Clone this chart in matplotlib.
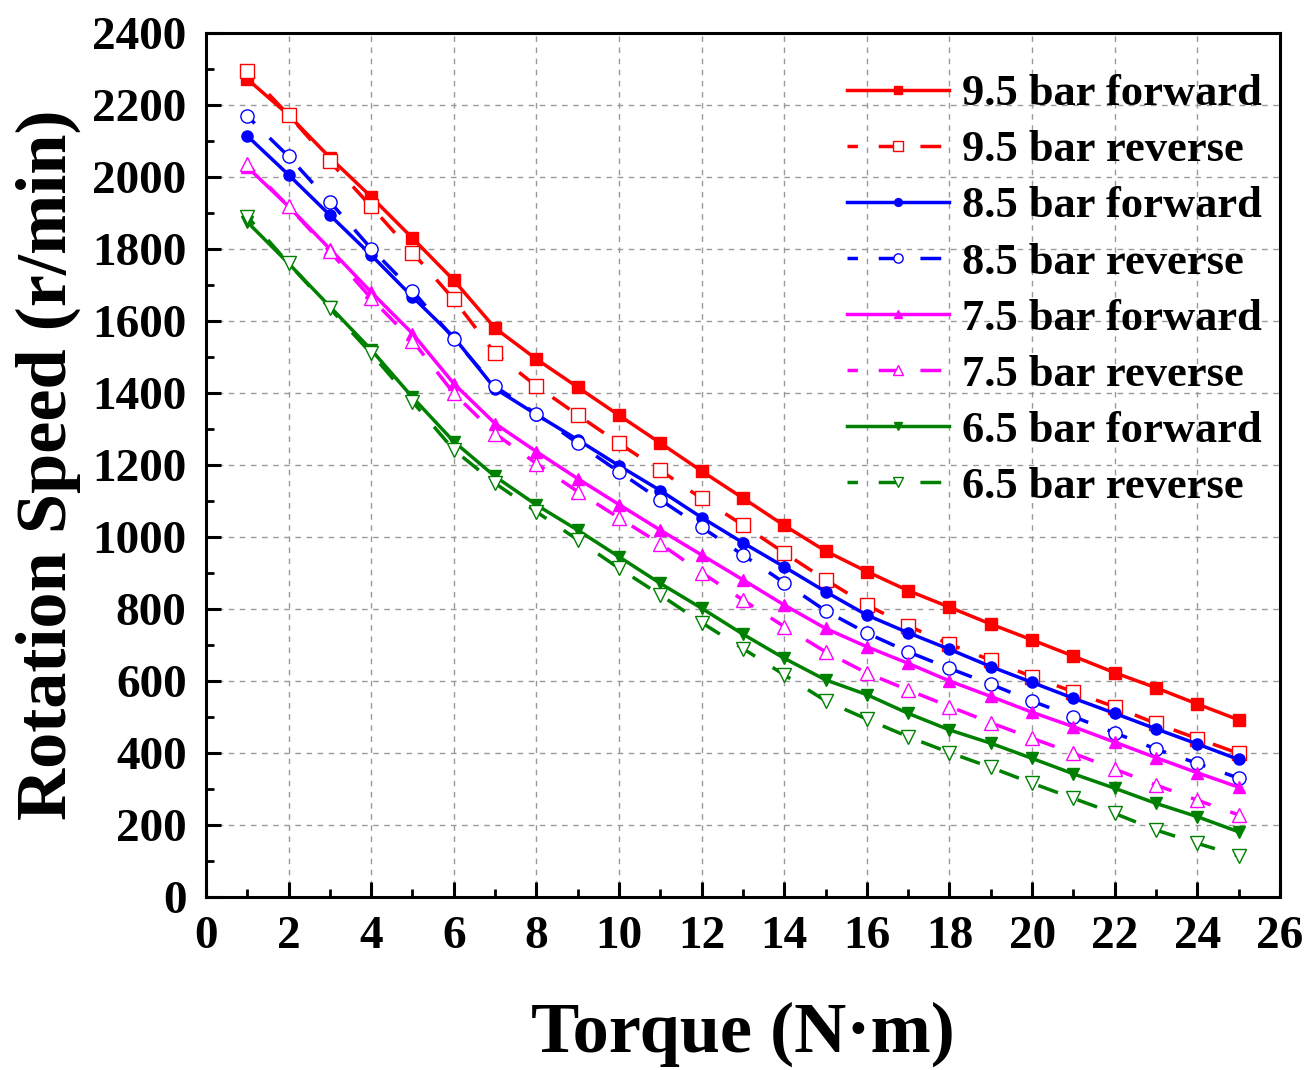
import matplotlib
matplotlib.use("Agg")
import matplotlib.pyplot as plt
from matplotlib.ticker import MultipleLocator

torque = list(range(1, 26))

speed_95_fwd = [2272, 2172, 2054, 1945, 1830, 1713, 1580, 1494, 1416, 1338, 1261, 1183, 1108,
                1032, 961, 904, 851, 805, 758, 714, 669, 623, 581, 536, 492]
speed_95_rev = [2293, 2172, 2043, 1918, 1790, 1660, 1510, 1419, 1339, 1260, 1185, 1107, 1033,
                956, 881, 811, 753, 702, 658, 612, 570, 528, 482, 440, 399]
speed_85_fwd = [2114, 2006, 1894, 1783, 1667, 1555, 1412, 1340, 1270, 1198, 1129, 1054, 984,
                917, 848, 783, 734, 688, 640, 596, 552, 510, 467, 425, 382]
speed_85_rev = [2169, 2057, 1931, 1801, 1684, 1551, 1418, 1342, 1260, 1181, 1103, 1027, 950,
                873, 795, 733, 681, 635, 591, 544, 501, 456, 411, 371, 330]
speed_75_fwd = [2028, 1918, 1800, 1680, 1565, 1426, 1315, 1237, 1162, 1090, 1019, 950, 881,
                811, 746, 695, 649, 600, 557, 513, 473, 430, 387, 345, 305]
speed_75_rev = [2035, 1918, 1793, 1663, 1545, 1399, 1287, 1204, 1126, 1053, 981, 901, 825,
                751, 681, 622, 575, 529, 484, 441, 399, 355, 311, 269, 228]
speed_65_fwd = [1875, 1760, 1640, 1520, 1388, 1265, 1168, 1089, 1019, 945, 871, 802, 730,
                663, 603, 562, 510, 464, 427, 385, 342, 302, 260, 223, 181]
speed_65_rev = [1890, 1760, 1635, 1510, 1376, 1242, 1149, 1070, 992, 913, 839, 762, 690,
                617, 545, 494, 445, 401, 360, 316, 274, 232, 186, 149, 114]

labels = ["9.5 bar forward", "9.5 bar reverse", "8.5 bar forward", "8.5 bar reverse",
          "7.5 bar forward", "7.5 bar reverse", "6.5 bar forward", "6.5 bar reverse"]

plt.rcParams['font.family'] = ['Liberation Serif', 'DejaVu Serif']
plt.rcParams['font.weight'] = 'bold'

fig = plt.figure(figsize=(13.16, 10.70), dpi=100)
ax = fig.add_axes([0.1565, 0.1617, 0.8161, 0.8075])

series = [
    (speed_95_fwd, '#FF0000', 's', True),
    (speed_95_rev, '#FF0000', 's', False),
    (speed_85_fwd, '#0000FF', 'o', True),
    (speed_85_rev, '#0000FF', 'o', False),
    (speed_75_fwd, '#FF00FF', '^', True),
    (speed_75_rev, '#FF00FF', '^', False),
    (speed_65_fwd, '#008000', 'v', True),
    (speed_65_rev, '#008000', 'v', False),
]

for (vals, color, marker, solid), lab in zip(series, labels):
    if solid:
        ax.plot(torque, vals, color=color, lw=2.5, marker=marker, markersize=8,
                markerfacecolor=color, markeredgecolor=color, label=lab, zorder=3)
    else:
        ax.plot(torque, vals, color=color, lw=2.5, linestyle=(3, (6, 6)), marker=marker,
                markersize=9.5, markerfacecolor='white', markeredgecolor=color,
                markeredgewidth=1.0, label=lab, zorder=3)

ax.set_xlim(0, 26)
ax.set_ylim(0, 2400)
ax.xaxis.set_major_locator(MultipleLocator(2))
ax.xaxis.set_minor_locator(MultipleLocator(1))
ax.yaxis.set_major_locator(MultipleLocator(200))
ax.yaxis.set_minor_locator(MultipleLocator(100))

ax.grid(True, which='major', color='#999999', linestyle=(0, (4, 4)), linewidth=1.0, zorder=0)

for sp in ax.spines.values():
    sp.set_linewidth(2.2)

ax.tick_params(which='major', direction='in', length=11, width=2.2, labelsize=34, pad=14)
ax.tick_params(which='minor', direction='in', length=6, width=2.0)
ax.tick_params(top=False, right=False, which='both')
for t in ax.get_xticklabels() + ax.get_yticklabels():
    t.set_fontweight('bold')

ax.set_xlabel("Torque (N·m)", fontsize=52, fontweight='bold', labelpad=31)
ax.set_ylabel("Rotation Speed (r/min)", fontsize=52, fontweight='bold', labelpad=8)

leg = ax.legend(loc='upper right', bbox_to_anchor=(1.0, 0.973), frameon=False, fontsize=32,
                handlelength=2.3, handletextpad=0.3, labelspacing=0.36, borderaxespad=0.0,
                markerscale=0.7)
for txt in leg.get_texts():
    txt.set_fontweight('bold')

fig.savefig("out.png", dpi=100)
